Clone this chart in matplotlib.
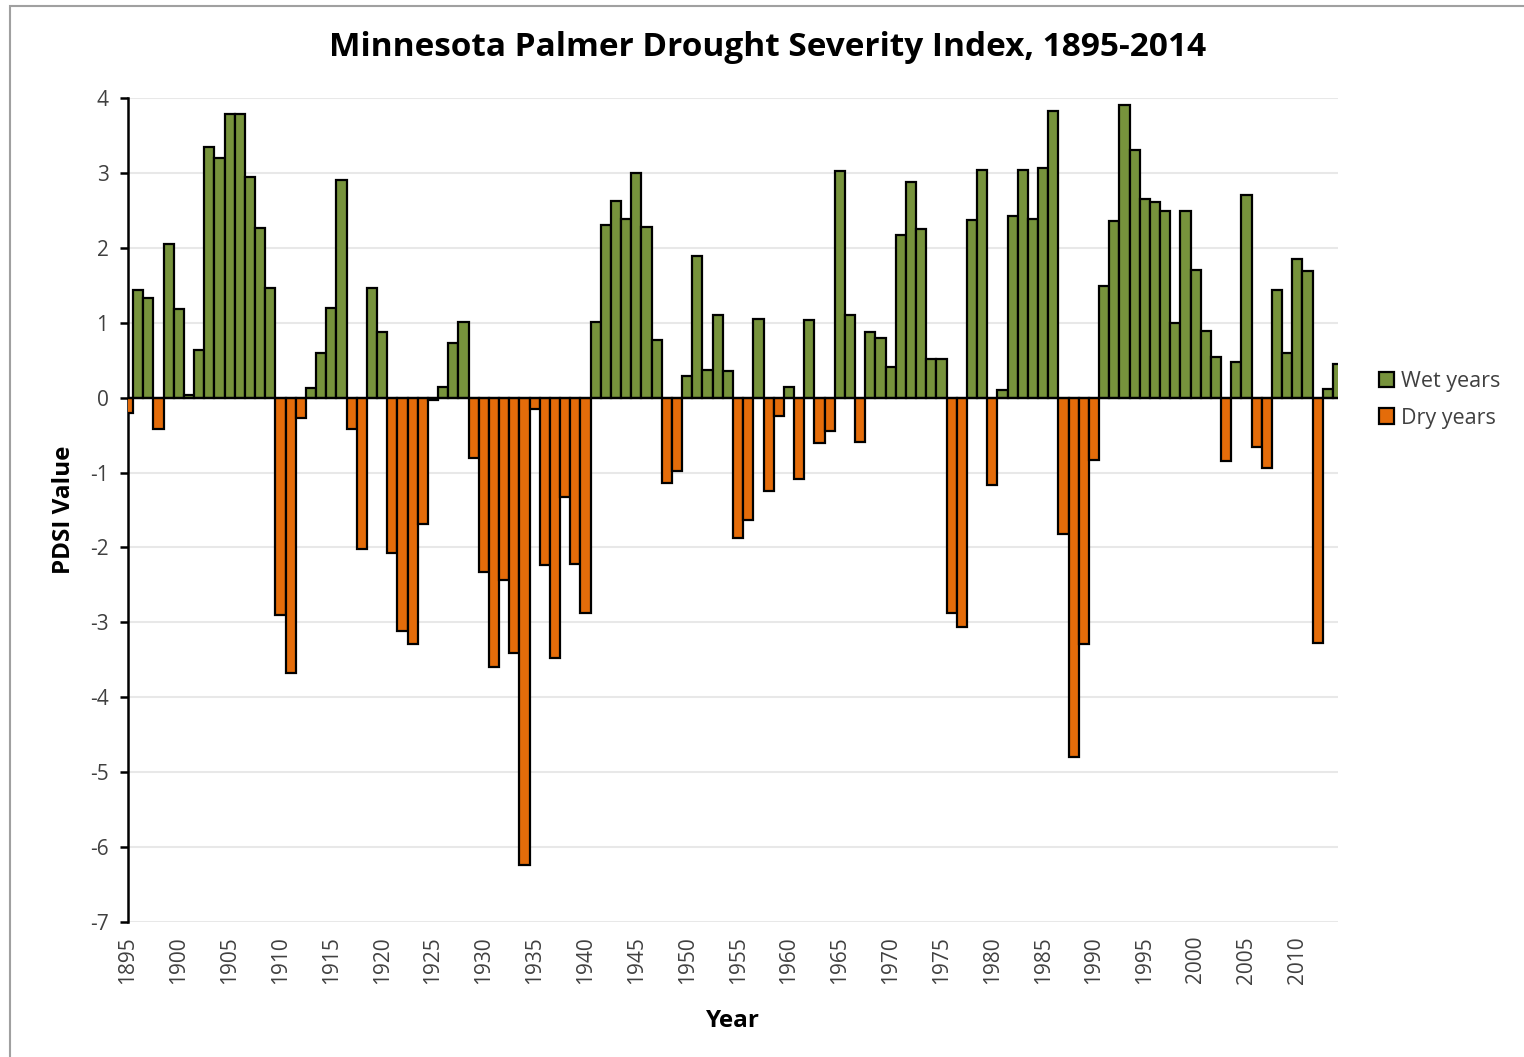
import matplotlib
matplotlib.use("Agg")
import matplotlib.pyplot as plt
import numpy as np
from matplotlib.patches import Rectangle, Patch

years = list(range(1895, 2015))
pdsi = [
    -0.20, 1.44, 1.33, -0.42, 2.05, 1.18, 0.03, 0.63, 3.35, 3.20,   # 1895-1904
    3.78, 3.78, 2.94, 2.27, 1.46, -2.90, -3.67, -0.27, 0.13, 0.60,  # 1905-1914
    1.19, 2.90, -0.42, -2.02, 1.46, 0.88, -2.08, -3.12, -3.29, -1.69,  # 1915-1924
    -0.03, 0.14, 0.73, 1.01, -0.81, -2.33, -3.59, -2.43, -3.41, -6.24,  # 1925-1934
    -0.15, -2.24, -3.47, -1.33, -2.22, -2.88, 1.01, 2.30, 2.63, 2.38,  # 1935-1944
    3.00, 2.28, 0.77, -1.14, -0.98, 0.29, 1.89, 0.37, 1.10, 0.35,  # 1945-1954
    -1.88, -1.64, 1.05, -1.25, -0.24, 0.14, -1.08, 1.04, -0.61, -0.44,  # 1955-1964
    3.03, 1.10, -0.59, 0.88, 0.79, 0.41, 2.17, 2.88, 2.25, 0.52,  # 1965-1974
    0.52, -2.87, -3.06, 2.37, 3.04, -1.16, 0.10, 2.42, 3.04, 2.38,  # 1975-1984
    3.07, 3.82, -1.82, -4.80, -3.29, -0.83, 1.49, 2.36, 3.90, 3.31,  # 1985-1994
    2.65, 2.61, 2.49, 1.00, 2.49, 1.71, 0.89, 0.54, -0.84, 0.47,  # 1995-2004
    2.70, -0.66, -0.94, 1.44, 0.60, 1.85, 1.69, -3.27, 0.12, 0.45,  # 2005-2014
]
tick_years = list(range(1895, 2015, 5))
y_ticks = list(range(-7, 5))
title = "Minnesota Palmer Drought Severity Index, 1895-2014"
legend_labels = ["Wet years", "Dry years"]

wet_color = "#77933C"
dry_color = "#E46C0A"

plt.rcParams['font.family'] = ['Open Sans', 'DejaVu Sans']

fig = plt.figure(figsize=(15.24, 10.57), dpi=100)
ax = fig.add_axes([128/1524, 1 - 922/1057, (1338-128)/1524, (922-98)/1057])

vals = np.array(pdsi)
yrs = np.array(years)
colors = [wet_color if v >= 0 else dry_color for v in vals]
ax.bar(yrs, vals, width=1.0, color=colors, edgecolor="black", linewidth=1.6, zorder=3)

ax.set_xlim(1895, 2014)
ax.set_ylim(-7, 4)
ax.set_yticks(y_ticks)
ax.set_yticklabels([str(t) for t in y_ticks], fontsize=15, color="#404040")
ax.set_xticks(tick_years)
ax.set_xticklabels([str(t) for t in tick_years], rotation=90, fontsize=15, color="#404040")
ax.tick_params(axis="x", length=0, pad=10)
ax.tick_params(axis="y", length=6, width=1.8, direction="out", pad=8)

for s in ["top", "right", "bottom"]:
    ax.spines[s].set_visible(False)
ax.spines["left"].set_linewidth(1.8)
ax.yaxis.grid(True, color="#E8E8E8", linewidth=1.5, zorder=0)
ax.axhline(0, color="black", linewidth=1.6, zorder=4)
ax.set_axisbelow(True)

ax.set_ylabel("PDSI Value", fontsize=17.5, fontweight="bold", labelpad=10)
ax.set_xlabel("Year", fontsize=17.5, fontweight="bold", labelpad=18)
fig.text(768/1524, 1 - 48/1057, title, ha="center", va="center",
         fontsize=24, fontweight="bold")

handles = [Patch(facecolor=wet_color, edgecolor="black", linewidth=1.6),
           Patch(facecolor=dry_color, edgecolor="black", linewidth=1.6)]
fig.legend(handles, legend_labels, loc="center left",
           bbox_to_anchor=(1360/1524, 1 - 400/1057), frameon=False,
           fontsize=15.5, handlelength=0.7, handleheight=0.7, handletextpad=0.3,
           labelspacing=0.7, labelcolor="#404040")

border = Rectangle((10/1524, -0.01), 1.0, 1 - 6/1057 + 0.01, transform=fig.transFigure,
                   fill=False, edgecolor="#A0A0A0", linewidth=1.5)
fig.patches.append(border)

fig.savefig("out.png", dpi=100, facecolor="white")
